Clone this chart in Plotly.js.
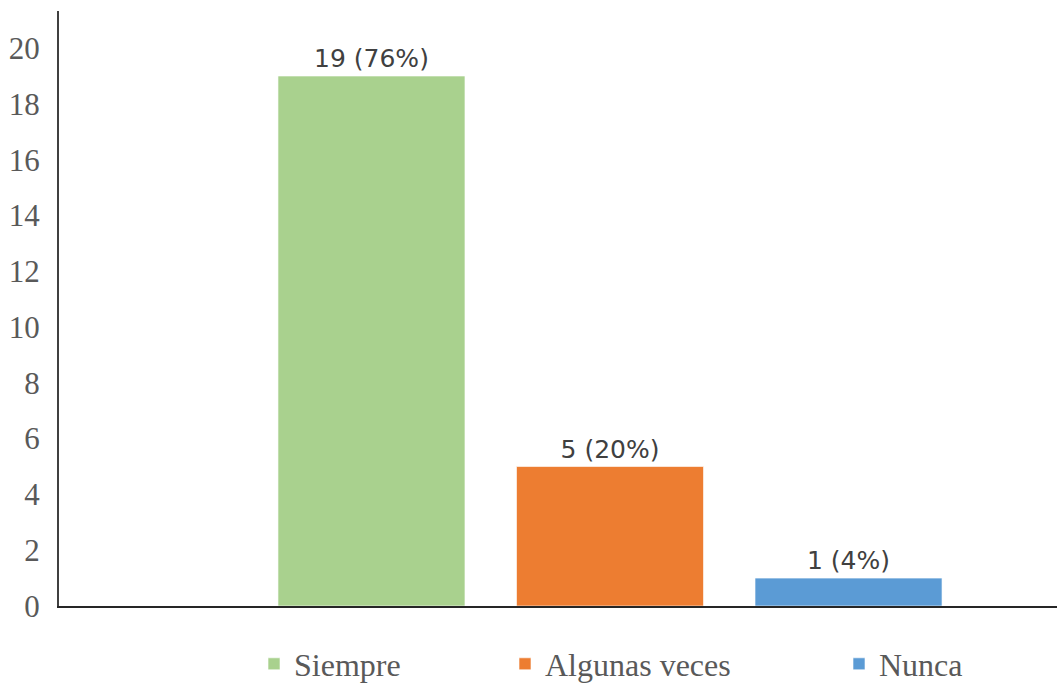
<!DOCTYPE html>
<html>
<head>
<meta charset="utf-8">
<script src="https://cdn.plot.ly/plotly-3.0.1.min.js"></script>
<style>html,body{margin:0;padding:0;background:#fff;}#chart{width:1057px;height:685px;}</style>
</head>
<body>
<div id="chart"></div>
<script>
const categories = ["Siempre", "Algunas veces", "Nunca"];
const counts = [19, 5, 1];
const percents = [76, 20, 4];
const colors = ["#A9D18E", "#ED7D31", "#5B9BD5"];
const yTicks = [0, 2, 4, 6, 8, 10, 12, 14, 16, 18, 20];

const legendNames = ["legend", "legend2", "legend3"];
const legendX = [254, 505, 839];

const traces = categories.map((c, i) => ({
  type: "bar",
  name: c,
  x: [c],
  y: [counts[i]],
  width: 0.784,
  text: [counts[i] + " (" + percents[i] + "%)"],
  textposition: "outside",
  cliponaxis: false,
  textfont: {family: "DejaVu Sans", size: 25, color: "#404040"},
  marker: {color: colors[i], line: {color: "rgba(255,255,255,0.6)", width: 1}},
  legend: legendNames[i],
  hoverinfo: "skip"
}));

const legendBase = {
  orientation: "h",
  xref: "container", yref: "container",
  xanchor: "left", yanchor: "middle",
  y: (685 - 664) / 685,
  font: {family: "Liberation Serif", size: 32, color: "#595959"},
  bgcolor: "rgba(0,0,0,0)",
  borderwidth: 0,
  itemclick: false, itemdoubleclick: false
};

const layout = {
  width: 1057, height: 685,
  margin: {l: 59, r: 0, t: 11, b: 79, pad: 0},
  paper_bgcolor: "#fff", plot_bgcolor: "#fff",
  barmode: "overlay",
  showlegend: true,
  xaxis: {
    type: "category",
    categoryorder: "array",
    categoryarray: categories,
    range: [-1.310, 2.874],
    showticklabels: false,
    showgrid: false, zeroline: false,
    showline: true, linecolor: "#262626", linewidth: 2,
    ticks: "", fixedrange: true
  },
  yaxis: {
    range: [0, 21.33],
    tickvals: yTicks,
    ticktext: yTicks.map(String),
    showgrid: false, zeroline: false,
    showline: true, linecolor: "#404040", linewidth: 2,
    ticks: "",
    ticklabelstandoff: 11,
    tickfont: {family: "Liberation Serif", size: 31, color: "#595959"},
    fixedrange: true
  },
  legend: Object.assign({}, legendBase, {x: legendX[0] / 1057}),
  legend2: Object.assign({}, legendBase, {x: legendX[1] / 1057}),
  legend3: Object.assign({}, legendBase, {x: legendX[2] / 1057})
};

Plotly.newPlot("chart", traces, layout, {displayModeBar: false, staticPlot: true});
</script>
</body>
</html>
